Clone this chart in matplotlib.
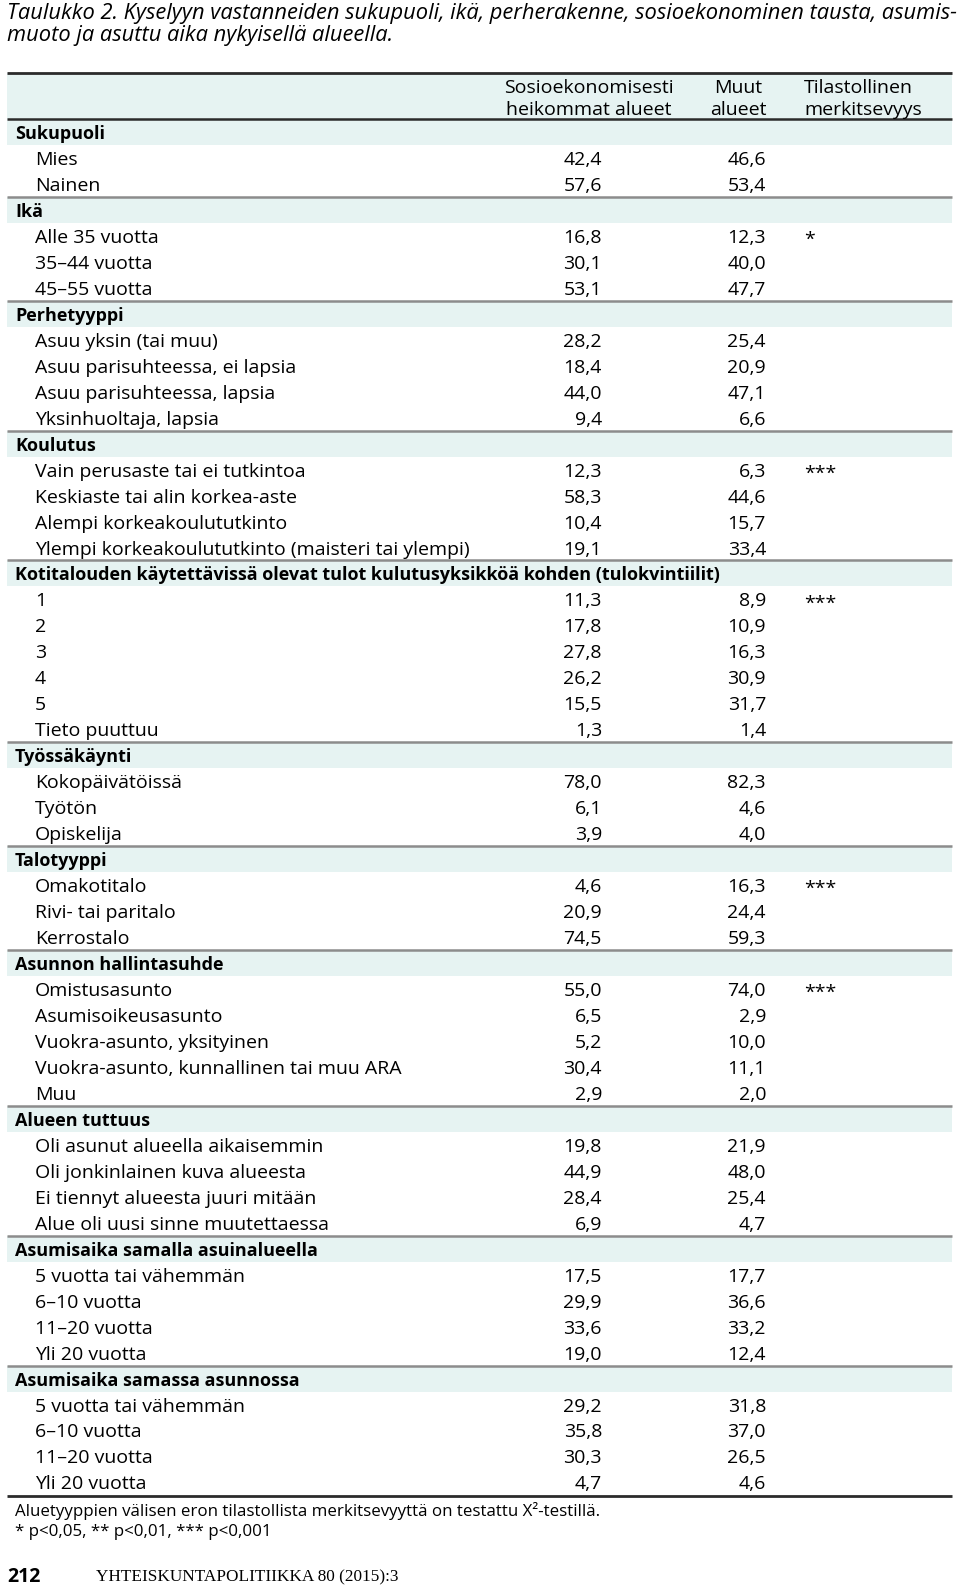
import matplotlib.pyplot as plt

plt.rcParams['font.family'] = ['Open Sans', 'DejaVu Sans']

title_lines = [
    "Taulukko 2. Kyselyyn vastanneiden sukupuoli, ikä, perherakenne, sosioekonominen tausta, asumis-",
    "muoto ja asuttu aika nykyisellä alueella.",
]
col_headers = [["Sosioekonomisesti", "heikommat alueet"], ["Muut", "alueet"], ["Tilastollinen", "merkitsevyys"]]

groups = [
    "Sukupuoli", "Ikä", "Perhetyyppi", "Koulutus",
    "Kotitalouden käytettävissä olevat tulot kulutusyksikköä kohden (tulokvintiilit)",
    "Työssäkäynti", "Talotyyppi", "Asunnon hallintasuhde", "Alueen tuttuus",
    "Asumisaika samalla asuinalueella", "Asumisaika samassa asunnossa",
]
items = [
    ["Mies", "Nainen"],
    ["Alle 35 vuotta", "35–44 vuotta", "45–55 vuotta"],
    ["Asuu yksin (tai muu)", "Asuu parisuhteessa, ei lapsia", "Asuu parisuhteessa, lapsia", "Yksinhuoltaja, lapsia"],
    ["Vain perusaste tai ei tutkintoa", "Keskiaste tai alin korkea-aste", "Alempi korkeakoulututkinto",
     "Ylempi korkeakoulututkinto (maisteri tai ylempi)"],
    ["1", "2", "3", "4", "5", "Tieto puuttuu"],
    ["Kokopäivätöissä", "Työtön", "Opiskelija"],
    ["Omakotitalo", "Rivi- tai paritalo", "Kerrostalo"],
    ["Omistusasunto", "Asumisoikeusasunto", "Vuokra-asunto, yksityinen",
     "Vuokra-asunto, kunnallinen tai muu ARA", "Muu"],
    ["Oli asunut alueella aikaisemmin", "Oli jonkinlainen kuva alueesta",
     "Ei tiennyt alueesta juuri mitään", "Alue oli uusi sinne muutettaessa"],
    ["5 vuotta tai vähemmän", "6–10 vuotta", "11–20 vuotta", "Yli 20 vuotta"],
    ["5 vuotta tai vähemmän", "6–10 vuotta", "11–20 vuotta", "Yli 20 vuotta"],
]
weak = [
    [42.4, 57.6],
    [16.8, 30.1, 53.1],
    [28.2, 18.4, 44.0, 9.4],
    [12.3, 58.3, 10.4, 19.1],
    [11.3, 17.8, 27.8, 26.2, 15.5, 1.3],
    [78.0, 6.1, 3.9],
    [4.6, 20.9, 74.5],
    [55.0, 6.5, 5.2, 30.4, 2.9],
    [19.8, 44.9, 28.4, 6.9],
    [17.5, 29.9, 33.6, 19.0],
    [29.2, 35.8, 30.3, 4.7],
]
other = [
    [46.6, 53.4],
    [12.3, 40.0, 47.7],
    [25.4, 20.9, 47.1, 6.6],
    [6.3, 44.6, 15.7, 33.4],
    [8.9, 10.9, 16.3, 30.9, 31.7, 1.4],
    [82.3, 4.6, 4.0],
    [16.3, 24.4, 59.3],
    [74.0, 2.9, 10.0, 11.1, 2.0],
    [21.9, 48.0, 25.4, 4.7],
    [17.7, 36.6, 33.2, 12.4],
    [31.8, 37.0, 26.5, 4.6],
]
signif = ["", "*", "", "***", "***", "", "***", "***", "", "", ""]

notes = [
    "Aluetyyppien välisen eron tilastollista merkitsevyyttä on testattu X²-testillä.",
    "* p<0,05, ** p<0,01, *** p<0,001",
]
page_no = "212"
journal = "YHTEISKUNTAPOLITIIKKA 80 (2015):3"

W, H = 960, 1586
fig = plt.figure(figsize=(W / 100, H / 100), dpi=100)
ax = fig.add_axes([0, 0, 1, 1])
ax.set_xlim(0, W)
ax.set_ylim(H, 0)
ax.axis('off')

band = '#e6f3f2'
dark = '#2b2b2b'
grey = '#8c8c8c'
x0, x1 = 7, 952
fs = 14
fs_bold = 13


def fmt(v):
    return f"{v:.1f}".replace(".", ",")


# title, scaled to span the table width
t = ax.text(7, 13, title_lines[0], fontsize=13, style='italic', va='center', ha='left')
fig.canvas.draw()
bb = t.get_window_extent()
tsize = 13 * (x1 - 7) / bb.width
t.set_fontsize(tsize)
ax.text(7, 36, title_lines[1], fontsize=tsize, style='italic', va='center', ha='left')

# header
top, hdr_bot = 73, 119
ax.fill_between([x0, x1], top, hdr_bot, color=band, lw=0)
ax.hlines(top, x0, x1, color=dark, lw=2)
ax.hlines(hdr_bot, x0, x1, color=dark, lw=1.8)
for j, ln in enumerate(col_headers[0]):
    ax.text(589, 86 + 22 * j, ln, fontsize=fs, ha='center', va='center_baseline')
for j, ln in enumerate(col_headers[1]):
    ax.text(738, 86 + 22 * j, ln, fontsize=fs, ha='center', va='center_baseline')
for j, ln in enumerate(col_headers[2]):
    ax.text(804, 86 + 22 * j, ln, fontsize=fs, ha='left', va='center_baseline')

rh = 25.97
row = 0
for g, name in enumerate(groups):
    rt = hdr_bot + row * rh
    ax.fill_between([x0, x1], rt, rt + rh, color=band, lw=0)
    if g > 0:
        ax.hlines(rt, x0, x1, color=grey, lw=1.8)
    ax.text(15, rt + rh / 2, name, fontsize=fs_bold, fontweight='bold', va='center_baseline')
    row += 1
    for k, lab in enumerate(items[g]):
        yc = hdr_bot + row * rh + rh / 2
        ax.text(35, yc, lab, fontsize=fs, va='center_baseline')
        ax.text(602, yc, fmt(weak[g][k]), fontsize=fs, ha='right', va='center_baseline')
        ax.text(766, yc, fmt(other[g][k]), fontsize=fs, ha='right', va='center_baseline')
        if k == 0 and signif[g]:
            ax.text(804, yc + 2, signif[g], fontsize=fs, ha='left', va='center_baseline')
        row += 1

bottom = hdr_bot + row * rh + 1
ax.hlines(bottom, x0, x1, color=dark, lw=2)

ax.text(15, 1509, notes[0], fontsize=12.2, va='center_baseline')
ax.text(15, 1530, notes[1], fontsize=12.2, va='center_baseline')

ax.text(7, 1575, page_no, fontsize=14, fontweight='bold', va='center_baseline')
ax.text(96, 1575, journal, fontsize=12.4, family=['Liberation Serif', 'DejaVu Serif'],
        va='center_baseline')

fig.savefig('out.png', dpi=100)
